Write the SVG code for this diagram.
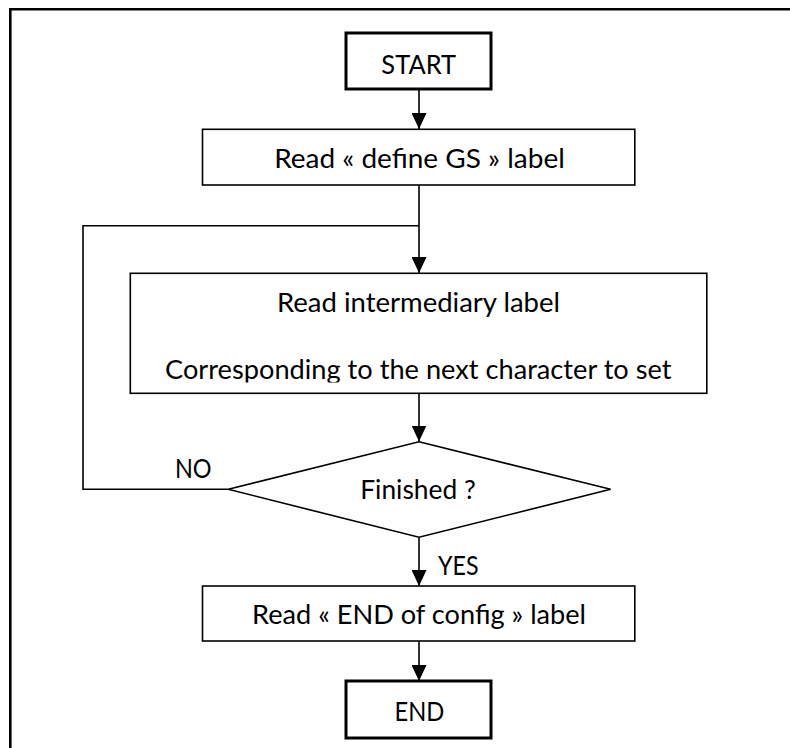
<svg xmlns="http://www.w3.org/2000/svg" width="790" height="748" viewBox="0 0 790 748">
<style>
.t{font-family:Lato,"Open Sans","Liberation Sans",sans-serif;font-size:26.5px;fill:#000;text-anchor:middle}
.thin{fill:#fff;stroke:#000;stroke-width:1.6}
.thick{fill:#fff;stroke:#000;stroke-width:3}
.c{fill:none;stroke:#000;stroke-width:1.6}
</style>
<defs>
<marker id="ah" viewBox="0 0 16 15" refX="16" refY="7.5" markerWidth="16" markerHeight="15" markerUnits="userSpaceOnUse" orient="auto">
<path d="M0,0 L16,7.5 L0,15 Z" fill="#000"/>
</marker>
<clipPath id="clipInt"><rect x="131" y="274" width="575" height="108.5"/></clipPath>
</defs>
<rect width="790" height="748" fill="#fff"/>
<g id="frame"><path d="M10.3,748 V9.3 H790" fill="none" stroke="#000" stroke-width="2.6"/></g>
<g id="connectors">
<line class="c" x1="419" y1="89" x2="419" y2="129" marker-end="url(#ah)"/>
<line class="c" x1="419" y1="185" x2="419" y2="273" marker-end="url(#ah)"/>
<polyline class="c" points="228.3,489.3 83,489.3 83,225.7 419,225.7"/>
<line class="c" x1="419" y1="393.3" x2="419" y2="441.5" marker-end="url(#ah)"/>
<line class="c" x1="419" y1="537.3" x2="419" y2="586" marker-end="url(#ah)"/>
<line class="c" x1="419" y1="641" x2="419" y2="681" marker-end="url(#ah)"/>
<text class="t" x="193.3" y="478.3" textLength="36.7" lengthAdjust="spacingAndGlyphs">NO</text>
<text class="t" x="458.3" y="574.5" textLength="40.5" lengthAdjust="spacingAndGlyphs">YES</text>
</g>
<g id="start">
<rect class="thick" x="346" y="33" width="145" height="56"/>
<text class="t" x="418.7" y="74" textLength="74.7" lengthAdjust="spacingAndGlyphs">START</text>
</g>
<g id="defineGS">
<rect class="thin" x="202.5" y="129.3" width="432.3" height="55.7"/>
<text class="t" x="419.5" y="168" textLength="290.6" lengthAdjust="spacingAndGlyphs">Read « define GS » label</text>
</g>
<g id="intermediary">
<rect class="thin" x="130.3" y="273.3" width="576.5" height="120"/>
<g clip-path="url(#clipInt)">
<text class="t" x="418.5" y="311.7" textLength="283" lengthAdjust="spacingAndGlyphs">Read intermediary label</text>
<text class="t" x="418.3" y="378.7" textLength="506.5" lengthAdjust="spacingAndGlyphs">Corresponding to the next character to set</text>
</g>
</g>
<g id="finished">
<polygon class="thin" points="419,441.7 610.6,489.3 419,537.3 228.3,489.3"/>
<text class="t" x="418" y="499" textLength="115.5" lengthAdjust="spacingAndGlyphs">Finished ?</text>
</g>
<g id="endConfig">
<rect class="thin" x="202.5" y="586" width="432.3" height="55"/>
<text class="t" x="419" y="624" textLength="334" lengthAdjust="spacingAndGlyphs">Read « END of config » label</text>
</g>
<g id="end">
<rect class="thick" x="346" y="681" width="145" height="57"/>
<text class="t" x="419.4" y="720.7" textLength="49.8" lengthAdjust="spacingAndGlyphs">END</text>
</g>
</svg>
